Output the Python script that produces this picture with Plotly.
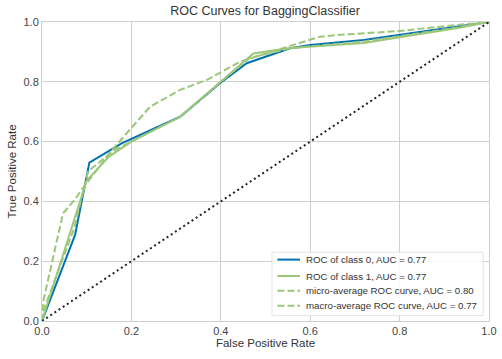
import plotly.graph_objects as go

# ROC data
fpr_c0 = [0.0, 0.074, 0.106, 0.178, 0.309, 0.398, 0.458, 0.555, 0.60, 0.72, 0.93, 1.0]
tpr_c0 = [0.0, 0.288, 0.530, 0.594, 0.683, 0.795, 0.862, 0.912, 0.923, 0.940, 0.985, 1.0]

fpr_c1 = [0.0, 0.07, 0.10, 0.15, 0.20, 0.309, 0.40, 0.473, 0.555, 0.72, 0.93, 1.0]
tpr_c1 = [0.0, 0.33, 0.47, 0.55, 0.60, 0.683, 0.80, 0.895, 0.913, 0.930, 0.980, 1.0]

fpr_micro = [0.0, 0.002, 0.047, 0.073, 0.088, 0.163, 0.242, 0.309, 0.368, 0.443, 0.555, 0.622, 0.667, 0.80, 0.928, 1.0]
tpr_micro = [0.0, 0.06, 0.36, 0.405, 0.438, 0.583, 0.717, 0.773, 0.806, 0.867, 0.92, 0.951, 0.957, 0.97, 0.99, 1.0]

fpr_macro = [0.0, 0.002, 0.072, 0.103, 0.16, 0.20, 0.309, 0.40, 0.465, 0.555, 0.72, 0.93, 1.0]
tpr_macro = [0.0, 0.03, 0.31, 0.50, 0.57, 0.60, 0.683, 0.80, 0.88, 0.912, 0.935, 0.982, 1.0]

labels = [
    "ROC of class 0, AUC = 0.77",
    "ROC of class 1, AUC = 0.77",
    "micro-average ROC curve, AUC = 0.80",
    "macro-average ROC curve, AUC = 0.77",
]
diag = [0.0, 1.0]

BLUE = "#0072B2"
GREEN = "#9CC77A"
DASH = "7px,3px"
colors = [BLUE, GREEN, GREEN, GREEN]
dashes = ["solid", "solid", DASH, DASH]

fig = go.Figure()
series = [(fpr_c0, tpr_c0), (fpr_c1, tpr_c1), (fpr_micro, tpr_micro), (fpr_macro, tpr_macro)]
for (xs, ys), name, c, d in zip(series, labels, colors, dashes):
    fig.add_trace(go.Scatter(x=xs, y=ys, mode="lines", name=name, showlegend=False,
                             line=dict(color=c, width=2, dash=d)))
fig.add_trace(go.Scatter(x=diag, y=diag, mode="lines", showlegend=False,
                         line=dict(color="#222222", width=2, dash="2px,3px")))

# compact legend box (matplotlib-style), drawn in paper coordinates
box_x0, box_x1, box_y0, box_y1 = 0.5145, 0.987, 0.018, 0.230
fig.add_shape(type="rect", xref="paper", yref="paper",
              x0=box_x0, x1=box_x1, y0=box_y0, y1=box_y1,
              fillcolor="rgba(255,255,255,0.85)", line=dict(color="#e3e3e3", width=1),
              layer="above")
row_y = [0.2053, 0.1505, 0.1013, 0.0512]
for yy, name, c, d in zip(row_y, labels, colors, dashes):
    fig.add_shape(type="line", xref="paper", yref="paper",
                  x0=0.5267, x1=0.5772, y0=yy, y1=yy,
                  line=dict(color=c, width=2, dash=d), layer="above")
    fig.add_annotation(xref="paper", yref="paper", x=0.586, y=yy, text=name,
                       showarrow=False, xanchor="left", yanchor="middle",
                       font=dict(size=9.7, color="#333333"))

axis_common = dict(
    range=[0, 1], tickvals=[0, 0.2, 0.4, 0.6, 0.8, 1.0],
    ticktext=["0.0", "0.2", "0.4", "0.6", "0.8", "1.0"],
    showgrid=True, gridcolor="#cfcfcf", gridwidth=1,
    showline=True, linecolor="#cfcfcf", linewidth=1, mirror=True,
    zeroline=False, ticks="", tickfont=dict(size=11, color="#444444"),
    title_font=dict(size=11.5, color="#333333"), automargin=False,
)

fig.update_layout(
    width=502, height=359,
    margin=dict(l=42, r=13, t=22, b=38),
    paper_bgcolor="white", plot_bgcolor="white",
    showlegend=False,
    font=dict(family="Liberation Sans, Arial, sans-serif", color="#333333"),
    title=dict(text="ROC Curves for BaggingClassifier", x=0.528, xanchor="center",
               y=1 - 11 / 359, yanchor="middle", font=dict(size=12.5, color="#333333")),
    xaxis=dict(axis_common, title=dict(text="False Positive Rate", standoff=2)),
    yaxis=dict(axis_common, title=dict(text="True Positive Rate", standoff=4)),
)

fig.write_html("out.html", config={"displayModeBar": False},
               post_script="document.body.style.margin='0';")
